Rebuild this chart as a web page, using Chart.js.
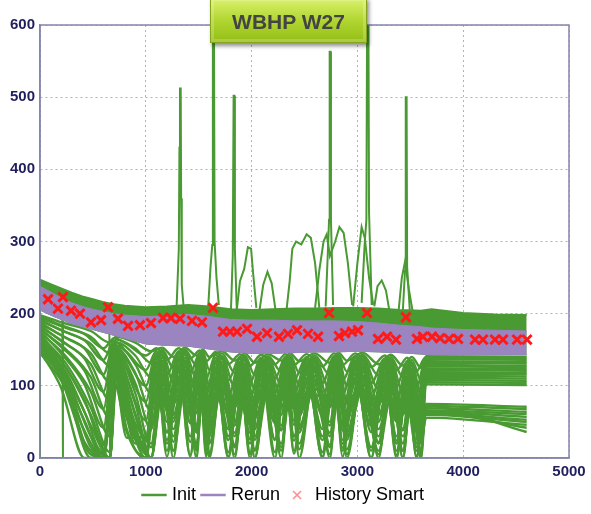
<!DOCTYPE html>
<html>
<head>
<meta charset="utf-8">
<title>WBHP W27</title>
<script src="https://cdn.jsdelivr.net/npm/chart.js@4.4.0/dist/chart.umd.min.js"></script>
<style>
    html, body { margin: 0; padding: 0; background: #fff; }
    #obal { position: relative; width: 591px; height: 514px; overflow: hidden; }
    #odznak {
        position: absolute; left: 210px; top: -3px; width: 157px; height: 46px;
        box-sizing: border-box;
        background: linear-gradient(#dcf26e, #b2d632 50%, #93bf16);
        border: 1px solid #86a31c;
        box-shadow: 2px 3px 4px rgba(0, 0, 0, 0.45), inset 0 0 0 3px rgba(255, 255, 255, 0.2);
        font: bold 21px 'Liberation Sans', Arial, sans-serif; color: #444;
        display: flex; align-items: center; justify-content: center; padding-top: 3px;
    }
</style>
</head>
<body>
<div id="obal">
    <canvas id="graf-wbhp" width="591" height="514"></canvas>
    <div id="odznak">WBHP W27</div>
</div>
<script>
// History Smart - měřené body
const historieX = [76, 170, 217, 293, 378, 482, 577, 643, 737, 832, 945, 1049, 1163, 1238, 1323, 1437, 1531, 1635, 1730, 1796, 1862, 1957, 2051, 2146, 2259, 2344, 2429, 2533, 2628, 2732, 2826, 2883, 2949, 3006, 3091, 3195, 3280, 3365, 3459, 3563, 3620, 3705, 3781, 3866, 3951, 4112, 4187, 4301, 4376, 4509, 4603];
const historieY = [220, 207, 223, 204, 200, 188, 191, 209, 193, 183, 184, 187, 194, 194, 193, 190, 188, 208, 175, 175, 175, 179, 168, 173, 168, 172, 177, 172, 168, 201, 169, 173, 175, 177, 201, 165, 168, 164, 195, 165, 168, 168, 166, 165, 165, 164, 164, 164, 164, 164, 164];

// pásmo nahoře (Init) a pásmo Rerun
const casyPasmo = [0, 100, 200, 300, 400, 500, 600, 700, 800, 1000, 1200, 1400, 1600, 1800, 2000, 2200, 2400, 2600, 2800, 3000, 3200, 3400, 3600, 3700, 4000, 4300, 4600];
const initHorni = [247, 241, 235, 229, 224, 220, 216, 213, 211, 209, 210, 212, 210, 206, 205, 206, 207, 207, 208, 208, 207, 205, 204, 206, 201, 199, 198];
const rerunHorni = [238, 230, 222, 215, 210, 206, 203, 200, 198, 196, 197, 199, 196, 192, 191, 191, 190, 190, 190, 189, 187, 184, 182, 180, 178, 177, 176];
const rerunDolni = [205, 198, 192, 186, 182, 178, 174, 170, 166, 158, 156, 155, 151, 147, 145, 145, 146, 147, 147, 148, 147, 146, 144, 143, 143, 143, 143];

// Init - realizace pod pásmem (sada A)
const casyInitA = [0, 250, 480, 660, 720, 900, 1050, 1155, 1260, 1370, 1480, 1540, 1600, 1720, 1840, 1935, 2030, 2155, 2280, 2365, 2450, 2595, 2740, 2820, 2900, 3050, 3200, 3315, 3430, 3515, 3600, 3650, 4600];
const initA1 = [198, 186, 176, 160, 168, 160, 148, 153, 140, 153, 142, 150, 140, 148, 135, 145, 132, 144, 135, 145, 134, 145, 132, 146, 135, 146, 130, 143, 128, 140, 125, 141, 140];
const initA2 = [194, 180, 168, 145, 164, 152, 132, 150, 125, 150, 128, 147, 122, 145, 118, 142, 115, 141, 120, 142, 118, 142, 115, 143, 120, 143, 114, 140, 112, 136, 108, 137, 136];
const initA3 = [190, 174, 158, 128, 160, 142, 112, 147, 105, 147, 110, 143, 100, 141, 98, 139, 95, 138, 102, 139, 100, 139, 95, 140, 100, 140, 95, 137, 90, 132, 88, 132, 131];
const initA4 = [186, 166, 145, 105, 156, 130, 90, 143, 80, 143, 88, 139, 78, 137, 72, 135, 70, 135, 82, 136, 80, 136, 72, 137, 78, 137, 75, 134, 65, 128, 68, 127, 126];
const initA5 = [182, 158, 130, 80, 152, 118, 65, 139, 50, 139, 62, 135, 55, 133, 45, 131, 40, 132, 60, 133, 58, 133, 45, 134, 52, 134, 50, 131, 38, 124, 45, 122, 121];
const initA6 = [178, 150, 112, 55, 148, 104, 40, 135, 22, 135, 35, 131, 30, 129, 18, 127, 12, 129, 38, 130, 35, 130, 18, 131, 25, 131, 22, 128, 10, 120, 25, 117, 116];
const initA7 = [174, 140, 92, 30, 144, 90, 15, 131, 0, 131, 10, 127, 5, 125, 0, 123, 0, 126, 15, 127, 12, 127, 0, 128, 5, 128, 0, 125, 0, 116, 5, 111, 110];
const initA8 = [170, 130, 70, 8, 140, 75, 0, 127, 10, 127, 0, 123, 0, 121, 5, 119, 0, 122, 0, 124, 0, 124, 5, 125, 0, 125, 5, 121, 0, 110, 0, 105, 104];
const initA9 = [166, 124, 60, 0, 136, 62, 0, 122, 30, 122, 45, 118, 40, 116, 30, 114, 25, 117, 45, 119, 40, 119, 30, 120, 35, 120, 30, 116, 20, 104, 30, 75, 71];
const initA10 = [162, 118, 45, 0, 130, 48, 20, 116, 60, 116, 15, 112, 65, 110, 50, 108, 55, 112, 10, 114, 60, 114, 50, 114, 12, 114, 60, 110, 40, 98, 10, 69, 64];
const initA11 = [158, 112, 30, 0, 124, 35, 0, 110, 40, 110, 70, 106, 20, 104, 70, 102, 30, 106, 70, 108, 20, 108, 70, 108, 60, 108, 20, 104, 60, 92, 35, 64, 57];
const initA12 = [154, 106, 15, 0, 118, 20, 40, 104, 75, 104, 40, 100, 75, 98, 35, 96, 75, 100, 40, 102, 75, 102, 35, 102, 78, 102, 75, 98, 10, 86, 55, 60, 50];
const initA13 = [150, 100, 5, 0, 110, 42, 0, 98, 10, 98, 80, 94, 45, 92, 85, 90, 10, 94, 80, 96, 45, 96, 80, 96, 30, 96, 40, 92, 75, 80, 20, 56, 46];
const initA14 = [146, 94, 0, 0, 100, 30, 0, 90, 55, 90, 20, 86, 85, 84, 15, 82, 85, 86, 20, 88, 85, 88, 15, 88, 85, 88, 10, 84, 30, 72, 0, 72, 36];

// Init - realizace pod pásmem (sada B, propady jinde)
const casyInitB = [0, 200, 420, 600, 700, 820, 1000, 1100, 1200, 1310, 1420, 1510, 1570, 1660, 1780, 1890, 1985, 2090, 2220, 2320, 2400, 2520, 2670, 2780, 2860, 2980, 3130, 3260, 3370, 3470, 3560, 3640, 4600];
const initB1 = [196, 184, 172, 152, 166, 158, 142, 152, 136, 152, 138, 149, 134, 147, 130, 144, 128, 143, 130, 144, 129, 144, 127, 145, 129, 145, 126, 142, 122, 139, 120, 139, 138];
const initB2 = [192, 177, 163, 136, 162, 147, 122, 148, 115, 148, 118, 145, 110, 143, 108, 140, 105, 139, 110, 140, 108, 140, 104, 141, 108, 141, 104, 138, 100, 134, 98, 134, 133];
const initB3 = [188, 170, 152, 116, 158, 136, 100, 145, 92, 145, 96, 141, 88, 139, 84, 137, 82, 136, 90, 137, 88, 137, 82, 138, 88, 138, 84, 135, 78, 130, 76, 129, 128];
const initB4 = [184, 162, 138, 92, 154, 124, 78, 141, 65, 141, 75, 137, 66, 135, 58, 133, 55, 133, 70, 134, 68, 134, 58, 135, 65, 135, 62, 132, 52, 126, 56, 124, 123];
const initB5 = [180, 154, 121, 68, 150, 111, 52, 137, 36, 137, 48, 133, 42, 131, 30, 129, 26, 130, 48, 131, 46, 131, 30, 132, 38, 132, 36, 129, 24, 122, 35, 119, 118];
const initB6 = [176, 145, 102, 42, 146, 97, 28, 133, 10, 133, 22, 129, 18, 127, 8, 125, 5, 127, 26, 128, 24, 128, 8, 129, 14, 129, 10, 126, 4, 118, 15, 114, 113];
const initB7 = [172, 135, 81, 18, 142, 82, 6, 129, 2, 129, 4, 125, 2, 123, 0, 121, 0, 124, 8, 125, 6, 125, 0, 126, 2, 126, 0, 123, 0, 113, 2, 108, 107];
const initB8 = [168, 127, 64, 4, 138, 68, 0, 125, 20, 125, 2, 121, 10, 119, 2, 117, 8, 120, 0, 122, 10, 122, 2, 123, 10, 123, 0, 118, 10, 107, 0, 102, 101];
const initB9 = [164, 121, 52, 0, 133, 55, 10, 119, 50, 119, 30, 115, 55, 113, 40, 111, 45, 114, 25, 116, 52, 116, 40, 117, 25, 117, 45, 113, 30, 101, 20, 72, 68];
const initB10 = [160, 115, 38, 0, 127, 40, 0, 113, 25, 113, 60, 109, 30, 107, 62, 105, 20, 109, 62, 111, 30, 111, 62, 111, 45, 111, 15, 107, 50, 95, 40, 66, 61];
const initB11 = [156, 109, 22, 0, 121, 28, 30, 107, 70, 107, 50, 103, 70, 101, 25, 99, 70, 103, 50, 105, 68, 105, 25, 105, 70, 105, 60, 101, 20, 89, 50, 62, 53];
const initB12 = [148, 97, 0, 0, 105, 36, 0, 94, 35, 94, 85, 90, 30, 88, 80, 86, 35, 90, 85, 92, 30, 92, 85, 92, 20, 92, 80, 88, 55, 76, 10, 64, 42];

// Init - špičky a hrby [čas, tlak]
const spicka1330 = [[1290, 205], [1312, 290], [1318, 430], [1323, 512], [1330, 512], [1334, 360], [1340, 240], [1360, 205]];
const spicka1640 = [[1590, 210], [1612, 265], [1628, 295], [1634, 620], [1644, 620], [1650, 300], [1668, 250], [1690, 212]];
const spicka1830 = [[1805, 205], [1822, 280], [1830, 502], [1837, 502], [1842, 290], [1860, 205]];
const spicka2745 = [[2700, 210], [2722, 290], [2732, 330], [2738, 563], [2746, 563], [2750, 330], [2770, 212]];
const spicka3090 = [[3040, 215], [3070, 300], [3085, 330], [3092, 620], [3104, 620], [3110, 340], [3135, 212]];
const spicka3465 = [[3430, 205], [3450, 260], [3457, 500], [3465, 500], [3470, 265], [3495, 205]];
const hrb1 = [[1860, 205], [1890, 245], [1930, 262], [1965, 292], [1995, 290], [2015, 255], [2045, 208]];
const hrb2 = [[2075, 205], [2110, 240], [2150, 258], [2190, 242], [2225, 206]];
const hrb3 = [[2330, 205], [2360, 245], [2385, 290], [2420, 300], [2470, 296], [2520, 310], [2560, 305], [2600, 270], [2640, 208]];
const hrb4 = [[2600, 208], [2640, 260], [2680, 300], [2710, 310], [2740, 280], [2790, 300], [2830, 320], [2870, 312], [2910, 270], [2950, 212]];
const hrb5 = [[2960, 210], [3000, 270], [3040, 320], [3070, 305], [3110, 250], [3150, 212]];
const hrb6 = [[3160, 210], [3190, 238], [3230, 246], [3270, 232], [3300, 206]];
const hrb7 = [[3390, 205], [3420, 250], [3450, 272], [3485, 235], [3520, 205]];
const nulaLinie = [[0, 245], [0, 0], [1070, 0]];
const pad217 = [[0, 222], [150, 212], [210, 208], [217, 0], [232, 0]];
const pad660 = [[0, 228], [300, 212], [600, 203], [655, 200], [662, 0], [690, 0]];

document.addEventListener('DOMContentLoaded', () => {
    const zelena = '#4a9a33';
    const fialova = '#9a85c1';
    const cervena = '#ff1a1a';

    const radaXY = (xs, ys) => xs.map((x, i) => ({ x: x, y: ys[i] }));
    const paryXY = (p) => p.map(([x, y]) => ({ x: x, y: y }));
    const linie = (data) => ({ label: 'Init', data: data, borderColor: zelena, borderWidth: 2.4, pointRadius: 0, cubicInterpolationMode: 'monotone', fill: false });

    const sadaA = [initA1, initA2, initA3, initA4, initA5, initA6, initA7, initA8, initA9, initA10, initA11, initA12, initA13, initA14]
        .map(ys => linie(radaXY(casyInitA, ys)));
    const sadaB = [initB1, initB2, initB3, initB4, initB5, initB6, initB7, initB8, initB9, initB10, initB11, initB12]
        .map(ys => linie(radaXY(casyInitB, ys)));
    const initSpicky = [spicka1330, spicka1640, spicka1830, spicka2745, spicka3090, spicka3465, hrb1, hrb2, hrb3, hrb4, hrb5, hrb6, hrb7, nulaLinie, pad217, pad660]
        .map(p => ({ label: 'Init', data: paryXY(p), borderColor: zelena, borderWidth: 2, pointRadius: 0, tension: 0, fill: false }));

    // malý křížek do legendy
    const krizek = document.createElement('canvas');
    krizek.width = 12; krizek.height = 12;
    const kc = krizek.getContext('2d');
    kc.strokeStyle = '#ff8c8c'; kc.lineWidth = 1.6;
    kc.beginPath(); kc.moveTo(2, 2); kc.lineTo(10, 10); kc.moveTo(10, 2); kc.lineTo(2, 10); kc.stroke();

    // rámeček kolem grafu
    const ramecek = {
        id: 'ramecek',
        afterDatasetsDraw(chart) {
            const { ctx, chartArea: a } = chart;
            ctx.save();
            ctx.strokeStyle = '#8585ad';
            ctx.lineWidth = 1.5;
            ctx.strokeRect(a.left, a.top, a.right - a.left, a.bottom - a.top);
            ctx.restore();
        }
    };

    const pismoOs = { size: 15, weight: 'bold', family: "'Liberation Sans', Arial, sans-serif" };

    const ctx = document.getElementById('graf-wbhp').getContext('2d');
    new Chart(ctx, {
        type: 'line',
        data: {
            datasets: [
                { label: 'History Smart', data: radaXY(historieX, historieY), showLine: false, pointStyle: 'crossRot', pointRadius: 6.5, borderWidth: 3, borderColor: cervena, backgroundColor: cervena },
                { label: 'Rerun', data: radaXY(casyPasmo, rerunHorni), borderColor: fialova, backgroundColor: fialova, borderWidth: 1, pointRadius: 0, fill: '+1' },
                { label: 'Rerun', data: radaXY(casyPasmo, rerunDolni), borderColor: fialova, borderWidth: 1, pointRadius: 0, fill: false },
                { label: 'Init', data: radaXY(casyPasmo, initHorni), borderColor: zelena, backgroundColor: zelena, borderWidth: 2, pointRadius: 0, fill: '+1' },
                { label: 'Init', data: radaXY(casyPasmo, rerunDolni), borderColor: zelena, borderWidth: 1, pointRadius: 0, fill: false },
                ...initSpicky,
                ...sadaA,
                ...sadaB
            ]
        },
        options: {
            responsive: false,
            animation: false,
            layout: { padding: { top: 25, right: 22, left: 0, bottom: 0 } },
            plugins: {
                tooltip: { enabled: false },
                legend: {
                    position: 'bottom',
                    labels: {
                        usePointStyle: true,
                        padding: 8,
                        color: '#222',
                        font: { size: 18, family: "'Liberation Sans', Arial, sans-serif" },
                        generateLabels: () => [
                            { text: 'Init', strokeStyle: zelena, fillStyle: zelena, lineWidth: 2.5, pointStyle: 'line', hidden: false, datasetIndex: 3 },
                            { text: 'Rerun', strokeStyle: fialova, fillStyle: fialova, lineWidth: 2.5, pointStyle: 'line', hidden: false, datasetIndex: 1 },
                            { text: 'History Smart', strokeStyle: '#ff8c8c', fillStyle: '#ff8c8c', lineWidth: 1, pointStyle: krizek, hidden: false, datasetIndex: 0 }
                        ]
                    }
                }
            },
            scales: {
                x: {
                    type: 'linear',
                    min: 0,
                    max: 5000,
                    afterFit: (s) => { s.height = 20; },
                    ticks: { stepSize: 1000, padding: 5, color: '#1f1f5e', font: pismoOs, callback: (v) => String(v) },
                    grid: { color: 'rgba(150,150,190,0.75)', drawTicks: false },
                    border: { color: '#8585ad', width: 1.5, dash: [2, 3] }
                },
                y: {
                    min: 0,
                    max: 600,
                    afterFit: (s) => { s.width = 40; },
                    ticks: { stepSize: 100, padding: 5, color: '#1f1f5e', font: pismoOs },
                    grid: { color: 'rgba(150,150,190,0.75)', drawTicks: false },
                    border: { color: '#8585ad', width: 1.5, dash: [2, 3] }
                }
            }
        },
        plugins: [ramecek]
    });
});
</script>
</body>
</html>
